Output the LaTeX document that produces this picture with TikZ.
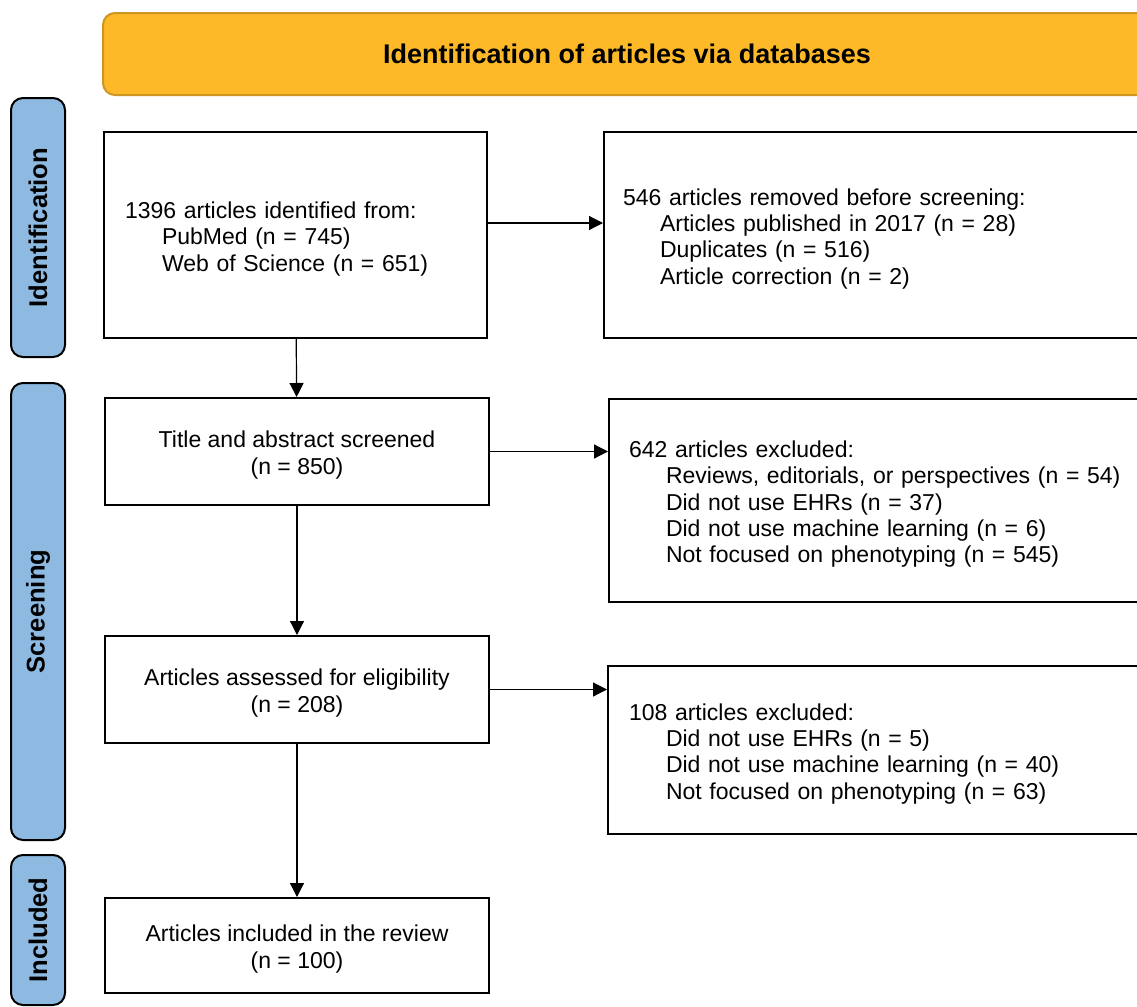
\documentclass[tikz,border=0pt]{standalone}
\usepackage{fontspec}
\setmainfont{Liberation Sans}
\usetikzlibrary{arrows.meta}

\definecolor{headfill}{RGB}{253,185,39}
\definecolor{headline}{RGB}{205,150,35}
\definecolor{sidefill}{RGB}{142,186,226}
\newcommand{\ind}{\hspace*{18.5pt}}
\newcommand{\tp}{\rule{0pt}{12pt}}

\begin{document}
\begin{tikzpicture}[x=0.5pt, y=-0.5pt,
    every node/.style={font=\fontsize{11.5}{13.2}\selectfont},
    box/.style={draw, line width=1pt, inner sep=0pt, align=center},
    lbox/.style={draw, line width=1pt, inner xsep=#1, inner ysep=0pt, align=left},
    side/.style={draw, line width=1pt, fill=sidefill, rounded corners=6pt, rotate=90,
        minimum height=27pt, inner sep=0pt, font=\fontsize{12.8}{14}\selectfont\bfseries},
    arr/.style={line width=0.6pt, -{Triangle[length=7pt, width=7pt]}}]

    \useasboundingbox (0,0) rectangle (1137,1007);
    \clip (0,0) rectangle (1137,1007);

    % Header
    \node[draw=headline, line width=1pt, fill=headfill, rounded corners=6pt,
        minimum width=524pt, minimum height=41pt, font=\fontsize{13.5}{15}\selectfont\bfseries]
        (head) at (627,54) {Identification of articles via databases};

    % Stages
    \node[side, minimum width=129.5pt] (sideid) at (38,227.5) {Identification};
    \node[side, minimum width=228.5pt] (sidescr) at (38,611.5) {Screening};
    \node[side, minimum width=75pt] (sideinc) at (38,930) {Included};

    % Main column
    \node[lbox=10.5pt, text width=170.5pt, minimum height=103pt] (ident) at (295.5,235)
        {\tp 1396 articles identified from:\\ \ind PubMed (n = 745)\\ \ind Web of Science (n = 651)};
    \node[box, minimum width=192pt, minimum height=53.5pt] (screen) at (297,451.5)
        {\tp Title and abstract screened\\(n = 850)};
    \node[box, minimum width=192pt, minimum height=53.5pt] (elig) at (297,689.5)
        {\tp Articles assessed for eligibility\\(n = 208)};
    \node[box, minimum width=192pt, minimum height=47.5pt] (incl) at (297,945.5)
        {\tp Articles included in the review\\(n = 100)};

    % Removed / excluded
    \node[lbox=9.5pt, text width=269.5pt, minimum height=103pt, anchor=west] (removed) at (603,235)
        {\tp 546 articles removed before screening:\\ \ind Articles published in 2017 (n = 28)\\
         \ind Duplicates (n = 516)\\ \ind Article correction (n = 2)};
    \node[lbox=10pt, text width=266pt, minimum height=101.5pt, anchor=west] (excl1) at (608,500.5)
        {\tp 642 articles excluded:\\ \ind Reviews, editorials, or perspectives (n = 54)\\
         \ind Did not use EHRs (n = 37)\\ \ind Did not use machine learning (n = 6)\\
         \ind Not focused on phenotyping (n = 545)};
    \node[lbox=10.5pt, text width=265pt, minimum height=84pt, anchor=west] (excl2) at (607,750)
        {\tp 108 articles excluded:\\ \ind Did not use EHRs (n = 5)\\
         \ind Did not use machine learning (n = 40)\\ \ind Not focused on phenotyping (n = 63)};

    % Arrows
    \draw[arr] (ident) -- (screen);
    \draw[arr] (screen) -- (elig);
    \draw[arr] (elig) -- (incl);
    \draw[arr] ([yshift=6pt]ident.east) -- ([yshift=6pt]ident.east -| removed.west);
    \draw[arr] (screen.east) -- (screen.east -| excl1.west);
    \draw[arr] (elig.east) -- (elig.east -| excl2.west);
\end{tikzpicture}
\end{document}
